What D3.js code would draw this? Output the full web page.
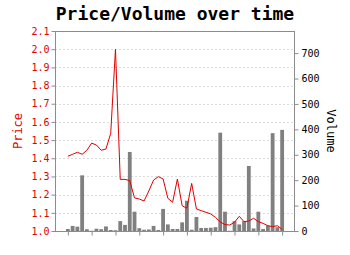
<!DOCTYPE html>
<html><head><meta charset="utf-8">
<script src="https://cdn.jsdelivr.net/npm/d3@7"></script>
<style>body{margin:0;background:#fff;}svg{display:block;}</style>
</head><body>
<script>
const title = "Price/Volume over time";
const priceLabel = "Price";
const volumeLabel = "Volume";
const price = [1.411,1.422,1.433,1.422,1.444,1.483,1.473,1.444,1.451,1.537,2.0,1.284,1.284,1.277,1.182,1.176,1.165,1.22,1.28,1.299,1.286,1.18,1.158,1.286,1.139,1.125,1.262,1.121,1.112,1.103,1.094,1.075,1.05,1.035,1.033,1.048,1.081,1.051,1.055,1.07,1.051,1.042,1.029,1.024,1.029,1.009];
const volume = [8,20,17,219,7,1,9,7,18,4,3,39,24,311,76,11,5,6,20,4,87,26,8,8,34,119,5,55,12,12,13,15,387,76,1,39,26,39,256,10,76,8,21,385,15,398];
const priceTicks = [1.0,1.1,1.2,1.3,1.4,1.5,1.6,1.7,1.8,1.9,2.0,2.1];
const volumeTicks = [0,100,200,300,400,500,600,700];
const xTicks = [0,5,10,15,20,25,30,35,40,45];

const W = 350, H = 255;
const L = 55, R = 295, T = 31, B = 231;
const svg = d3.select("body").append("svg").attr("width", W).attr("height", H);
const font = "DejaVu Sans Mono";
const red = "#e00000";

const idx = d3.range(price.length);
const x = d3.scaleLinear().domain([-2.7, 47.7]).range([L, R]);
const yP = d3.scaleLinear().domain([1.0, 2.1]).range([B, T]);
const yV = d3.scaleLinear().domain([0, 787]).range([B, T]);

// grid
svg.append("g").selectAll("line").data(priceTicks.slice(1, -1)).join("line")
  .attr("x1", L).attr("x2", R)
  .attr("y1", d => Math.round(yP(d)) + 0.5).attr("y2", d => Math.round(yP(d)) + 0.5)
  .attr("stroke", "#dcdcdc").attr("stroke-width", 1).attr("stroke-dasharray", "2,2");

// bars
const bw = (x(1) - x(0)) * 0.8;
svg.append("g").selectAll("rect").data(idx).join("rect")
  .attr("x", i => x(i) - bw / 2).attr("width", bw)
  .attr("y", i => yV(volume[i])).attr("height", i => B - yV(volume[i]))
  .attr("fill", "#808080");

// price line
svg.append("path").datum(idx)
  .attr("d", d3.line().x(i => x(i)).y(i => yP(price[i])))
  .attr("fill", "none").attr("stroke", red).attr("stroke-width", 1);

// frame
svg.append("rect").attr("x", L + 0.5).attr("y", T + 0.5).attr("width", R - L - 1).attr("height", B - T)
  .attr("fill", "none").attr("stroke", "#8c8c8c").attr("stroke-width", 1);

// left axis
const gl = svg.append("g").attr("transform", `translate(${L + 0.5},0)`)
  .call(d3.axisLeft(yP).tickValues(priceTicks).tickFormat(d3.format(".1f")).tickSize(4).tickPadding(2));
gl.select(".domain").remove();
gl.selectAll(".tick line").attr("stroke", "#8c8c8c");
gl.selectAll(".tick text").attr("fill", red).attr("font-family", font).attr("font-size", 10);

// right axis
const gr = svg.append("g").attr("transform", `translate(${R - 0.5},0)`)
  .call(d3.axisRight(yV).tickValues(volumeTicks).tickSize(4).tickPadding(3));
gr.select(".domain").remove();
gr.selectAll(".tick line").attr("stroke", "#8c8c8c");
gr.selectAll(".tick text").attr("fill", "#000").attr("font-family", font).attr("font-size", 10);

// bottom ticks
const gb = svg.append("g").attr("transform", `translate(0,${B + 0.5})`)
  .call(d3.axisBottom(x).tickValues(xTicks).tickSize(4).tickFormat(""));
gb.select(".domain").remove();
gb.selectAll(".tick line").attr("stroke", "#8c8c8c");

// title
svg.append("text").attr("x", (L + R) / 2).attr("y", 20).attr("text-anchor", "middle")
  .attr("font-family", font).attr("font-weight", "bold").attr("font-size", 18).text(title);

// axis labels
svg.append("text").attr("transform", `translate(22,${(T + B) / 2}) rotate(-90)`)
  .attr("text-anchor", "middle").attr("font-family", font).attr("font-size", 12)
  .attr("fill", red).text(priceLabel);
svg.append("text").attr("transform", `translate(327,${(T + B) / 2}) rotate(90)`)
  .attr("text-anchor", "middle").attr("font-family", font).attr("font-size", 12)
  .attr("fill", "#000").text(volumeLabel);
</script>
</body></html>
